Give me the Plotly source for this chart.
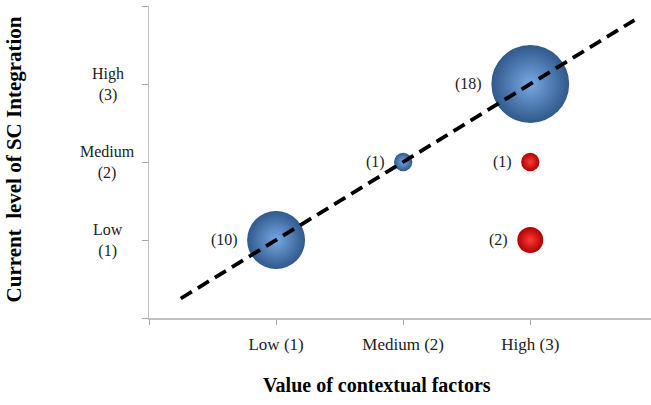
import plotly.graph_objects as go

# Data
x_categories = ["Low (1)", "Medium (2)", "High (3)"]
y_categories = ["Low<br>(1)", "Medium<br>(2)", "High<br>(3)"]

blue_x = [1, 2, 3]
blue_y = [1, 2, 3]
blue_n = [10, 1, 18]

red_x = [3, 3]
red_y = [2, 1]
red_n = [1, 2]

trend_x = [0.25, 3.82]
trend_y = [0.25, 3.82]

# Styling: bubble area proportional to count
REF_N, REF_D = 10, 58.0


def diam(n):
    return REF_D * (n / REF_N) ** 0.5


SERIF = "Liberation Serif"

fig = go.Figure()

fig.add_trace(go.Scatter(
    x=blue_x, y=blue_y, mode="markers",
    marker=dict(size=[diam(n) for n in blue_n], opacity=1,
                color="#30598c", line=dict(width=0),
                gradient=dict(type="radial", color="#78a8e4")),
    hoverinfo="skip", showlegend=False))

fig.add_trace(go.Scatter(
    x=red_x, y=red_y, mode="markers",
    marker=dict(size=[diam(n) for n in red_n], opacity=1,
                color="#b00000", line=dict(width=0),
                gradient=dict(type="radial", color="#ff3a3a")),
    hoverinfo="skip", showlegend=False))

fig.add_trace(go.Scatter(
    x=trend_x, y=trend_y, mode="lines",
    line=dict(color="black", width=3.8, dash="13px,7px"),
    hoverinfo="skip", showlegend=False))

annotations = []
for xs, ys, ns in [(blue_x, blue_y, blue_n), (red_x, red_y, red_n)]:
    for xv, yv, nv in zip(xs, ys, ns):
        annotations.append(dict(
            x=xv, y=yv, xref="x", yref="y", text=f"({nv})", showarrow=False,
            xanchor="right", yanchor="middle", xshift=-(diam(nv) / 2 + 7),
            font=dict(family=SERIF, size=16, color="#222")))

for i, lab in enumerate(y_categories):
    annotations.append(dict(
        x=-0.082, y=i + 1, xref="paper", yref="y", text=lab, showarrow=False,
        xanchor="center", yanchor="middle", align="center",
        font=dict(family=SERIF, size=16, color="#222")))

annotations.append(dict(
    x=0.454, y=-0.215, xref="paper", yref="paper",
    text="<b>Value of contextual factors</b>", showarrow=False,
    xanchor="center", yanchor="middle",
    font=dict(family=SERIF, size=20, color="black")))
annotations.append(dict(
    x=-0.269, y=0.508, xref="paper", yref="paper",
    text="<b>Current\u00a0\u00a0level of SC Integration</b>", showarrow=False,
    xanchor="center", yanchor="middle", textangle=-90,
    font=dict(family=SERIF, size=21, color="black")))

fig.update_layout(
    width=651, height=405,
    margin=dict(l=149, r=0, t=6, b=87),
    paper_bgcolor="white", plot_bgcolor="white",
    annotations=annotations,
    xaxis=dict(range=[0, 3.95], tickvals=[0, 1, 2, 3],
               ticktext=[""] + x_categories,
               showgrid=False, zeroline=False, showline=True,
               linecolor="#bfbfbf", linewidth=1.5,
               ticks="outside", ticklen=5, tickcolor="#a6a6a6", tickwidth=1,
               ticklabelstandoff=5,
               tickfont=dict(family=SERIF, size=17, color="#222")),
    yaxis=dict(range=[0, 4], tickvals=[0, 1, 2, 3, 4],
               showticklabels=False,
               showgrid=False, zeroline=False, showline=True,
               linecolor="#bfbfbf", linewidth=1.5,
               ticks="outside", ticklen=6, tickcolor="#a6a6a6", tickwidth=1),
)

fig.write_html("out.html",
               config={"displayModeBar": False, "staticPlot": True},
               post_script="document.body.style.margin='0';document.body.style.overflow='hidden';")
